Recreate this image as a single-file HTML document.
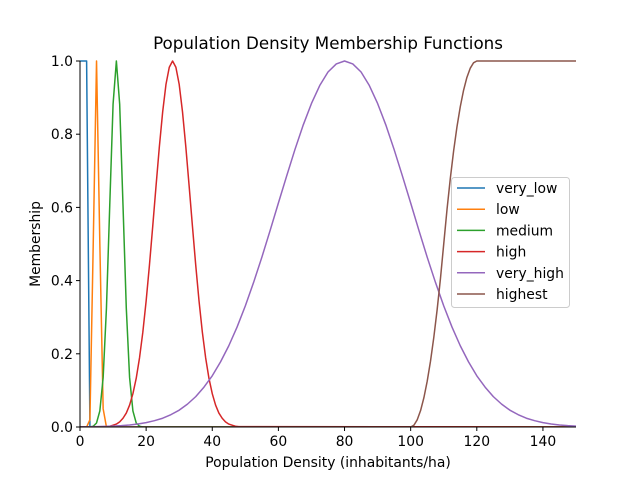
<!DOCTYPE html>
<html><head><meta charset="utf-8"><style>
body{margin:0;background:#fff}
svg{display:block;font-family:"DejaVu Sans","Liberation Sans",sans-serif}
</style></head><body>
<svg id="chart" width="640" height="480">
<text x="328" y="49" font-size="16.7" text-anchor="middle">Population Density Membership Functions</text>
<text x="328" y="467" font-size="13.9" text-anchor="middle">Population Density (inhabitants/ha)</text>
<text transform="translate(40,244) rotate(-90)" font-size="13.9" text-anchor="middle">Membership</text>
<g id="plot"></g>
<g id="axes"></g>
<g id="legend"></g>
</svg>
<script>
const xTicks=[0,20,40,60,80,100,120,140];
const yTicks=[0.0,0.2,0.4,0.6,0.8,1.0];
const seriesNames=["very_low","low","medium","high","very_high","highest"];
const seriesColors=["#1f77b4","#ff7f0e","#2ca02c","#d62728","#9467bd","#8c564b"];
const veryLowX=[0,1,2,3,150];
const veryLowY=[1,1,1,0,0];
const lowX=[0,2,3,4,5,6,7,8,150];
const lowY=[0,0,0.02,0.5,1,0.5,0.05,0,0];
const mediumX=[0,3,4,5,6,7,8,9,10,11,12,13,14,15,16,17,18,19,150];
const mediumY=[0,0,0.002,0.011,0.044,0.135,0.325,0.607,0.882,1,0.882,0.607,0.325,0.135,0.044,0.011,0.002,0,0];
const highX=[0,8,9,10,11,12,13,14,15,16,17,18,19,20,21,22,23,24,25,26,27,28,29,30,31,32,33,34,35,36,37,38,39,40,41,42,43,44,45,46,47,48,150];
const highY=[0,0.001,0.002,0.005,0.008,0.014,0.024,0.038,0.060,0.091,0.133,0.189,0.259,0.344,0.442,0.549,0.659,0.766,0.861,0.936,0.983,1,0.983,0.936,0.861,0.766,0.659,0.549,0.442,0.344,0.259,0.189,0.133,0.091,0.060,0.038,0.024,0.014,0.008,0.005,0.002,0.001,0];
const veryHighX=[0,2.5,5,7.5,10,12.5,15,17.5,20,22.5,25,27.5,30,32.5,35,37.5,40,42.5,45,47.5,50,52.5,55,57.5,60,62.5,65,67.5,70,72.5,75,77.5,80,82.5,85,87.5,90,92.5,95,97.5,100,102.5,105,107.5,110,112.5,115,117.5,120,122.5,125,127.5,130,132.5,135,137.5,140,142.5,145,147.5,150];
const veryHighY=[0.0004,0.0006,0.001,0.0016,0.0024,0.0037,0.0056,0.0082,0.012,0.0172,0.024,0.0338,0.046,0.0625,0.083,0.109,0.140,0.178,0.222,0.273,0.331,0.395,0.464,0.537,0.612,0.686,0.758,0.825,0.884,0.933,0.970,0.992,1,0.992,0.970,0.933,0.884,0.825,0.758,0.686,0.612,0.537,0.464,0.395,0.331,0.273,0.222,0.178,0.140,0.109,0.083,0.0625,0.046,0.0338,0.024,0.0172,0.012,0.0082,0.0056,0.0037,0.0024];
const highestX=[0,100,101,102,103,104,105,106,107,108,109,110,111,112,113,114,115,116,117,118,119,120,150];
const highestY=[0,0,0.005,0.02,0.045,0.08,0.125,0.18,0.245,0.32,0.405,0.5,0.595,0.68,0.755,0.82,0.875,0.92,0.955,0.98,0.995,1,1];
const allX=[veryLowX,lowX,mediumX,highX,veryHighX,highestX];
const allY=[veryLowY,lowY,mediumY,highY,veryHighY,highestY];

const NS="http://www.w3.org/2000/svg";
const X0=80,X1=576,Y0=427,Y1=61;
const sx=v=>X0+(v-0)/(150-0)*(X1-X0);
const sy=v=>Y0-(v-0)/(1-0)*(Y0-Y1);
function mk(tag,attrs,parent){const e=document.createElementNS(NS,tag);for(const k in attrs)e.setAttribute(k,attrs[k]);parent.appendChild(e);return e;}
const plot=document.getElementById("plot"),axes=document.getElementById("axes"),leg=document.getElementById("legend");
const cp=mk("clipPath",{id:"clip"},plot);mk("rect",{x:X0,y:Y1-2,width:X1-X0,height:Y0-Y1+2},cp);
allX.forEach((xs,i)=>{
  const d=xs.map((x,j)=>(j?"L":"M")+sx(x).toFixed(2)+","+sy(allY[i][j]).toFixed(2)).join("");
  const p=mk("path",{d:d,fill:"none",stroke:seriesColors[i],"stroke-width":1.5,"stroke-linejoin":"round","clip-path":"url(#clip)"},plot);
  
  
});
const la=mk("line",{x1:X0,y1:Y1,x2:X0,y2:Y0,stroke:"#000","stroke-width":1},axes);


const lb=mk("line",{x1:X0,y1:Y0,x2:X1,y2:Y0,stroke:"#000","stroke-width":1},axes);


xTicks.forEach(t=>{
  const x=sx(t);
  mk("line",{x1:x,y1:Y0,x2:x,y2:Y0+4,stroke:"#000"},axes);
  const tx=mk("text",{x:x,y:Y0+19,"font-size":13.9,"text-anchor":"middle"},axes);
  tx.textContent=t;
  
  
});
yTicks.forEach(t=>{
  const y=sy(t);
  mk("line",{x1:X0-4,y1:y,x2:X0,y2:y,stroke:"#000"},axes);
  const tx=mk("text",{x:X0-7,y:y+5,"font-size":13.9,"text-anchor":"end"},axes);
  tx.textContent=t.toFixed(1);
  
  
});
mk("rect",{x:451.5,y:177.5,width:118,height:130,rx:3,fill:"#fff","fill-opacity":0.8,stroke:"#ccc"},leg);
seriesNames.forEach((n,i)=>{
  const y=188+i*21.2;
  const l=mk("line",{x1:457,y1:y,x2:485,y2:y,stroke:seriesColors[i],"stroke-width":1.5},leg);
  
  
  const t=mk("text",{x:496,y:y+5,"font-size":13.9},leg);
  t.textContent=n;
  
  
});
</script>
</body></html>
